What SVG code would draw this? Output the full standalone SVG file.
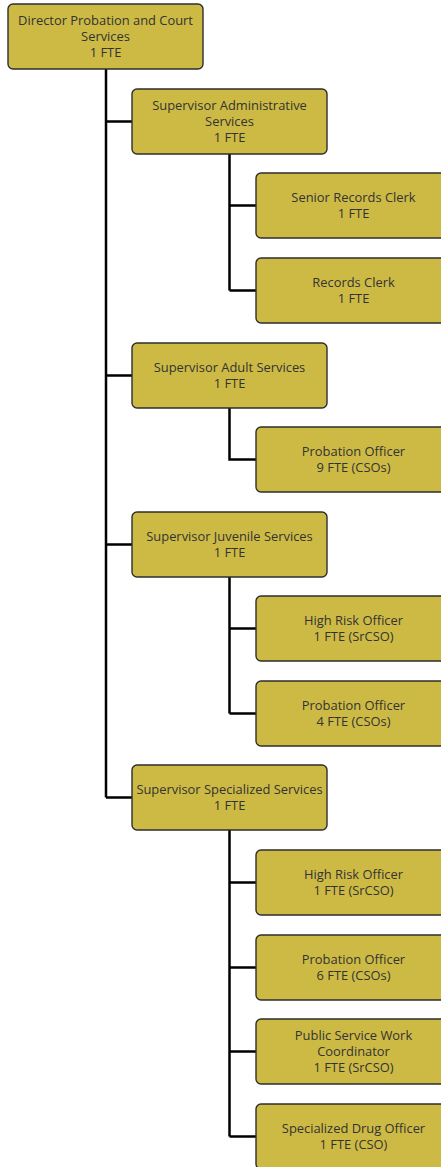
<svg xmlns="http://www.w3.org/2000/svg" width="441" height="1167" viewBox="0 0 441 1167">
<style>
.box{fill:#cdba45;stroke:#2e2e2e;stroke-width:1.4}
.t{font-family:"Open Sans","Noto Sans",sans-serif;font-size:12.9px;fill:#333;text-anchor:middle}
.c{fill:none;stroke:#000;stroke-width:2.5}
</style>
<rect width="441" height="1167" fill="#fff"/>
<g id="connectors">
<path class="c" d="M106,69V797.5M106,121.5H132M106,375.5H132M106,544.5H132M106,797.5H132"/>
<path class="c" d="M229.5,154V290.5M229.5,205.5H256M229.5,290.5H256"/>
<path class="c" d="M229.5,408V459.5H256"/>
<path class="c" d="M229.5,577V713.5M229.5,628.5H256M229.5,713.5H256"/>
<path class="c" d="M229.5,830V1136.5M229.5,882.5H256M229.5,967.5H256M229.5,1051.5H256M229.5,1136.5H256"/>
</g>
<g id="director"><rect class="box" x="8" y="4" width="195" height="65" rx="5"/>
<text class="t" x="105.5" y="24.5">Director Probation and Court</text><text class="t" x="105.5" y="40.5">Services</text><text class="t" x="105.5" y="56.5">1 FTE</text></g>
<g id="sup-admin"><rect class="box" x="132" y="89" width="195" height="65" rx="5"/>
<text class="t" x="229.5" y="109.5">Supervisor Administrative</text><text class="t" x="229.5" y="125.5">Services</text><text class="t" x="229.5" y="141.5">1 FTE</text></g>
<g id="senior-records-clerk"><rect class="box" x="256" y="173" width="195" height="65" rx="5"/>
<text class="t" x="353.5" y="201.5">Senior Records Clerk</text><text class="t" x="353.5" y="217.5">1 FTE</text></g>
<g id="records-clerk"><rect class="box" x="256" y="258" width="195" height="65" rx="5"/>
<text class="t" x="353.5" y="286.5">Records Clerk</text><text class="t" x="353.5" y="302.5">1 FTE</text></g>
<g id="sup-adult"><rect class="box" x="132" y="343" width="195" height="65" rx="5"/>
<text class="t" x="229.5" y="371.5">Supervisor Adult Services</text><text class="t" x="229.5" y="387.5">1 FTE</text></g>
<g id="adult-probation-officer"><rect class="box" x="256" y="427" width="195" height="65" rx="5"/>
<text class="t" x="353.5" y="455.5">Probation Officer</text><text class="t" x="353.5" y="471.5">9 FTE (CSOs)</text></g>
<g id="sup-juvenile"><rect class="box" x="132" y="512" width="195" height="65" rx="5"/>
<text class="t" x="229.5" y="540.5">Supervisor Juvenile Services</text><text class="t" x="229.5" y="556.5">1 FTE</text></g>
<g id="juv-high-risk"><rect class="box" x="256" y="596" width="195" height="65" rx="5"/>
<text class="t" x="353.5" y="624.5">High Risk Officer</text><text class="t" x="353.5" y="640.5">1 FTE (SrCSO)</text></g>
<g id="juv-probation-officer"><rect class="box" x="256" y="681" width="195" height="65" rx="5"/>
<text class="t" x="353.5" y="709.5">Probation Officer</text><text class="t" x="353.5" y="725.5">4 FTE (CSOs)</text></g>
<g id="sup-specialized"><rect class="box" x="132" y="765" width="195" height="65" rx="5"/>
<text class="t" x="229.5" y="793.5">Supervisor Specialized Services</text><text class="t" x="229.5" y="809.5">1 FTE</text></g>
<g id="spec-high-risk"><rect class="box" x="256" y="850" width="195" height="65" rx="5"/>
<text class="t" x="353.5" y="878.5">High Risk Officer</text><text class="t" x="353.5" y="894.5">1 FTE (SrCSO)</text></g>
<g id="spec-probation-officer"><rect class="box" x="256" y="935" width="195" height="65" rx="5"/>
<text class="t" x="353.5" y="963.5">Probation Officer</text><text class="t" x="353.5" y="979.5">6 FTE (CSOs)</text></g>
<g id="public-service-work"><rect class="box" x="256" y="1019" width="195" height="65" rx="5"/>
<text class="t" x="353.5" y="1039.5">Public Service Work</text><text class="t" x="353.5" y="1055.5">Coordinator</text><text class="t" x="353.5" y="1071.5">1 FTE (SrCSO)</text></g>
<g id="specialized-drug"><rect class="box" x="256" y="1104" width="195" height="65" rx="5"/>
<text class="t" x="353.5" y="1132.5">Specialized Drug Officer</text><text class="t" x="353.5" y="1148.5">1 FTE (CSO)</text></g>
</svg>
